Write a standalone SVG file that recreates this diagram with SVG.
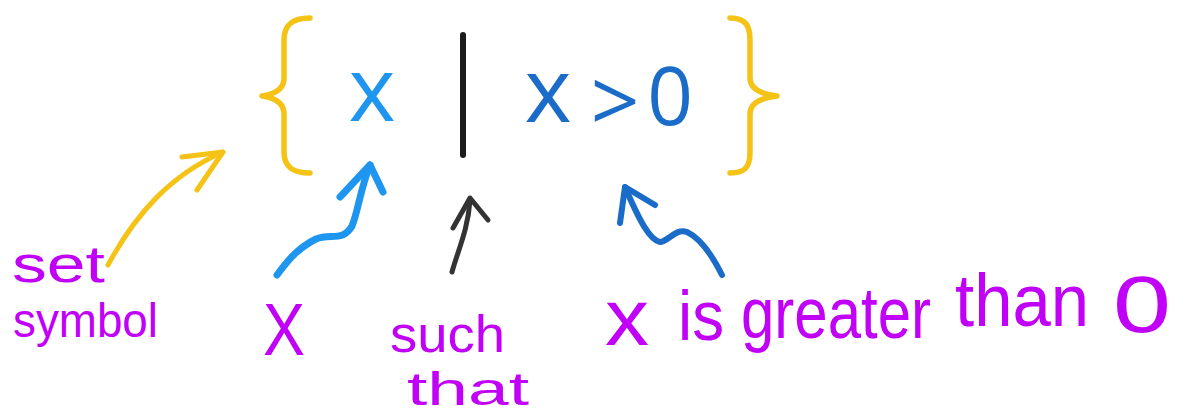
<svg xmlns="http://www.w3.org/2000/svg" width="1188" height="416" viewBox="0 0 1188 416">
<style>
.brace{fill:none;stroke:#F5C216;stroke-width:5.5;stroke-linecap:round;stroke-linejoin:round}
.sym{font-family:"Open Sans","Liberation Sans",sans-serif}
.hand{font-family:"Liberation Sans",Arial,sans-serif;fill:#C100F7}
.arr{fill:none;stroke-linecap:round;stroke-linejoin:round}
</style>
<rect width="1188" height="416" fill="#ffffff"/>
<g id="set-notation">
  <path class="brace" d="M310,18 C292,18 284,25 284,40 L284,78 C284,88 276,94 262,96 C276,98 284,104 284,114 L284,152 C284,166 292,173 310,173"/>
  <path class="brace" d="M730,18 C746,18 750,26 750,40 L750,78 C750,88 760,94 777,96 C760,98 750,104 750,114 L750,152 C750,166 746,173 730,173"/>
  <text class="sym" x="372" y="121" font-size="90" fill="#1E96F0" text-anchor="middle">x</text>
  <line x1="463" y1="35" x2="463" y2="155" stroke="#1c1c1c" stroke-width="6" stroke-linecap="round"/>
  <text class="sym" fill="#1A6CC8" text-anchor="middle"><tspan x="548" y="122" font-size="90">x</tspan><tspan x="615" y="132" font-size="86">&gt;</tspan><tspan x="670" y="125" font-size="80">0</tspan></text>
</g>
<g id="connectors">
  <g stroke="#F5C216" stroke-width="5" class="arr">
    <path d="M108,265 C135,215 170,175 223,152"/>
    <path d="M182,157 L223,152 L197,190"/>
  </g>
  <g stroke="#1E96F0" stroke-width="7" class="arr">
    <path d="M277,275 C288,260 298,248 316,239 C330,233 343,242 352,226 C358,212 360,190 370,165"/>
    <path d="M340,197 L370,165 L383,192"/>
  </g>
  <g stroke="#333333" stroke-width="5" class="arr">
    <path d="M452,272 C458,250 468,230 470,200"/>
    <path d="M453,228 L470,198 L488,220"/>
  </g>
  <g stroke="#1A6CC8" stroke-width="6" class="arr">
    <path d="M722,275 C712,255 700,238 687,232 C675,228 668,242 660,242 C650,240 640,222 625,187"/>
    <path d="M620,223 L625,187 L655,205"/>
  </g>
</g>
<g id="label-set-symbol">
  <text class="hand"><tspan x="12" y="282" font-size="52" textLength="93" lengthAdjust="spacingAndGlyphs">set</tspan><tspan x="13" y="337" font-size="48" textLength="145" lengthAdjust="spacingAndGlyphs">symbol</tspan></text>
</g>
<g id="label-x">
  <text class="hand" x="263" y="355" font-size="74" textLength="42" lengthAdjust="spacingAndGlyphs">X</text>
</g>
<g id="label-such-that">
  <text class="hand"><tspan x="390" y="352" font-size="52" textLength="115" lengthAdjust="spacingAndGlyphs">such</tspan><tspan x="407" y="405" font-size="46" textLength="122" lengthAdjust="spacingAndGlyphs">that</tspan></text>
</g>
<g id="label-greater">
  <text class="hand"><tspan x="605" y="345" font-size="80" textLength="44" lengthAdjust="spacingAndGlyphs">x</tspan> <tspan x="678" y="340" font-size="70" textLength="46" lengthAdjust="spacingAndGlyphs">is</tspan> <tspan x="741" y="338" font-size="72" textLength="190" lengthAdjust="spacingAndGlyphs">greater</tspan> <tspan x="955" y="326" font-size="74" textLength="134" lengthAdjust="spacingAndGlyphs">than</tspan> <tspan x="1113" y="332" font-size="80" textLength="58" lengthAdjust="spacingAndGlyphs">0</tspan></text>
</g>
</svg>
